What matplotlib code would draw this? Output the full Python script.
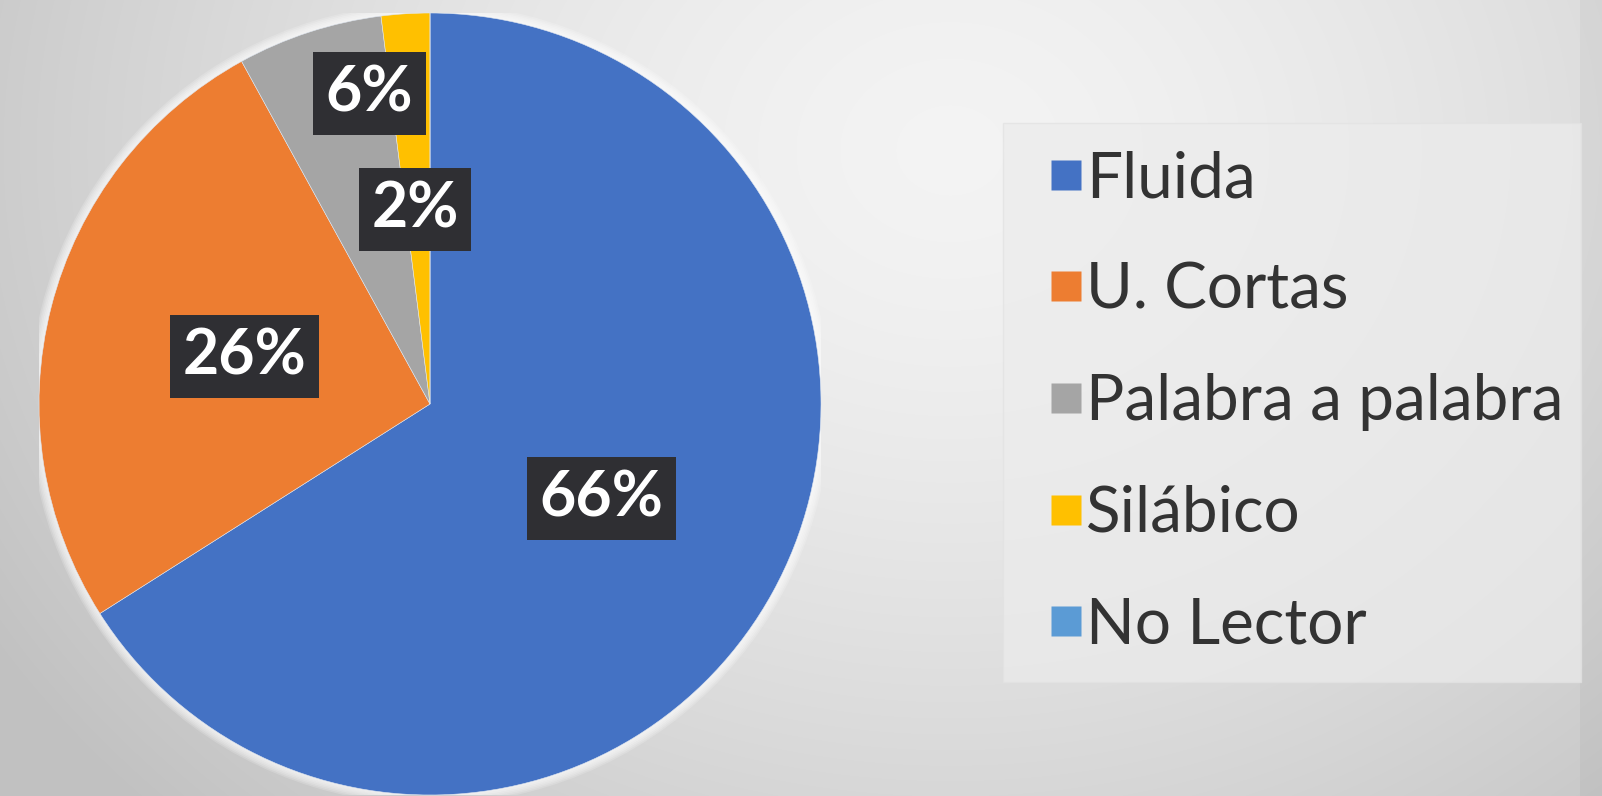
import numpy as np
import matplotlib
matplotlib.use("Agg")
import matplotlib.pyplot as plt
from matplotlib.lines import Line2D
from matplotlib.patches import Circle, Rectangle

# ---- data ----
categories = ["Fluida", "U. Cortas", "Palabra a palabra", "Silábico", "No Lector"]
values = [66, 26, 6, 2, 0]
pct_labels = ["66%", "26%", "6%", "2%", ""]
colors = ["#4472C4", "#ED7D31", "#A5A5A5", "#FFC000", "#5B9BD5"]

W, H = 1602, 796
fig = plt.figure(figsize=(W / 100, H / 100), dpi=100)

# ---- background gradient ----
bg = fig.add_axes([0, 0, 1, 1], zorder=0)
yy, xx = np.mgrid[0:H, 0:W]
d = np.sqrt(((xx - 950) / 900.0) ** 2 + ((yy - 150) / 750.0) ** 2)
v = np.clip(0.955 - 0.14 * d ** 1.5, 0.76, 0.96)
v[:, 1580:] -= 0.03
bg.imshow(np.dstack([v, v, v]), extent=(0, W, H, 0), aspect="auto", interpolation="bilinear")
bg.set_xlim(0, W)
bg.set_ylim(H, 0)
bg.axis("off")

# ---- pie ----
cx, cy, r = 430, 404, 391
ax = fig.add_axes([(cx - r) / W, (H - cy - r) / H, 2 * r / W, 2 * r / H], zorder=2)
ax.patch.set_alpha(0)
for k in range(6):
    ax.add_patch(Circle((0, 0), 1.0 + 0.004 * (k + 1), color="white", alpha=0.18, lw=0, zorder=0))
wedges, _ = ax.pie(values, colors=colors, startangle=90, counterclock=False, radius=1.0,
                   wedgeprops=dict(edgecolor="#dfe6f0", linewidth=0.4))
ax.set_xlim(-1, 1)
ax.set_ylim(-1, 1)
ax.set_aspect("equal")
ax.axis("off")

total = float(sum(values))
label_r = [0.5, 0.49, 0.81, 0.5, 0.5]
angle_shift = [0, 0, -7, 0.8, 0]
cum = 0.0
for i, val in enumerate(values):
    mid = 90 - 360 * (cum + val / 2) / total + angle_shift[i]
    cum += val
    if val == 0:
        continue
    th = np.deg2rad(mid)
    ax.text(label_r[i] * np.cos(th), label_r[i] * np.sin(th), pct_labels[i],
            ha="center", va="center", color="white", fontsize=45, fontweight="bold",
            family="Lato", zorder=5,
            bbox=dict(boxstyle="square,pad=0.2", fc="#2f2f33", ec="none"))

# ---- legend ----
fig.patches.append(Rectangle((1003 / W, 1 - 682 / H), (1581 - 1003) / W, (682 - 123) / H,
                             transform=fig.transFigure, fc="#ececec", ec="#e2e2e2",
                             lw=1.0, alpha=0.7, zorder=1))
handles = [Line2D([], [], marker="s", linestyle="none", markersize=21,
                  markerfacecolor=c, markeredgecolor="none") for c in colors]
leg = fig.legend(handles, categories, loc="upper left",
                 bbox_to_anchor=(1050 / W, 1 - 150 / H),
                 frameon=False, borderpad=0, borderaxespad=0,
                 handlelength=0.5, handletextpad=0.06, labelspacing=0.84,
                 prop=dict(family="Lato", size=46))
for t in leg.get_texts():
    t.set_color("#333333")
leg.set_zorder(3)

fig.savefig("out.png", dpi=100)
